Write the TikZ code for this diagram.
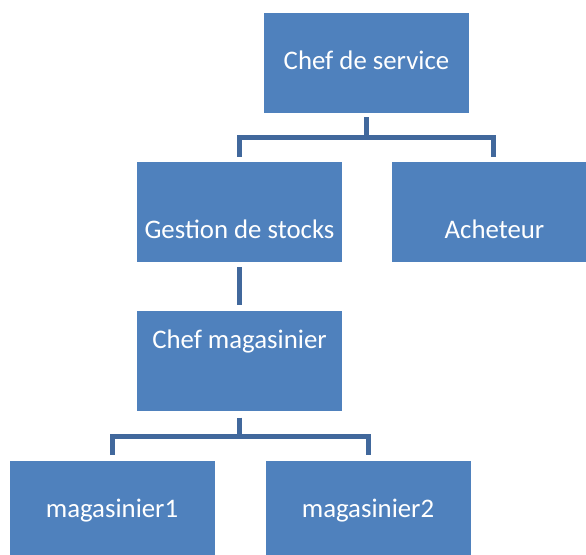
\documentclass[tikz,border=0pt]{standalone}
\usepackage{fontspec}
\setmainfont{Carlito}
\definecolor{boxblue}{HTML}{4F81BD}
\definecolor{linkblue}{HTML}{41689C}
\tikzset{
  unit/.style={rectangle, fill=boxblue, draw=none, minimum width=205pt,
    minimum height=100pt, inner sep=0pt},
  lbl/.style={text=white, font=\fontsize{26.8}{32}\selectfont, anchor=base, inner sep=0pt},
  conn/.style={draw=linkblue, line width=5pt}
}
\begin{document}
\begin{tikzpicture}[x=1pt,y=1pt]
  \useasboundingbox (0,0) rectangle (586,554);
  \clip (0,0) rectangle (586,554);

  % boxes of the chart
  \node[unit] (chef) at (366.5,491) {};
  \node[unit] (gestion) at (239.5,342) {};
  \node[unit] (acheteur) at (494.5,342) {};
  \node[unit] (chefmag) at (239.5,192.5) {};
  \node[unit] (mag1) at (112,43) {};
  \node[unit] (mag2) at (368,43) {};

  % labels, set on their baselines
  \node[lbl] (tchef) at (366.5,484) {Chef de service};
  \node[lbl] (tgestion) at (239.5,315) {Gestion de stocks};
  \node[lbl] (tacheteur) at (494.5,315) {Acheteur};
  \node[lbl] (tchefmag) at (239.5,205) {Chef magasinier};
  \node[lbl] (tmag1) at (112,36) {magasinier1};
  \node[lbl] (tmag2) at (368,36) {magasinier2};

  % connectors
  \draw[conn] ([yshift=-4pt]chef.south) -- ++(0,-20.5) coordinate (hubA);
  \draw[conn] ([yshift=5pt]gestion.north) |- (hubA) -| ([xshift=-1.5pt,yshift=5pt]acheteur.north);
  \draw[conn] ([yshift=-5pt]gestion.south) -- ([yshift=6pt]chefmag.north);
  \draw[conn] ([yshift=-6pt]chefmag.south) -- ++(0,-18.5) coordinate (hubB);
  \draw[conn] ([yshift=6pt]mag1.north) |- (hubB) -| ([yshift=6pt]mag2.north);
\end{tikzpicture}
\end{document}
